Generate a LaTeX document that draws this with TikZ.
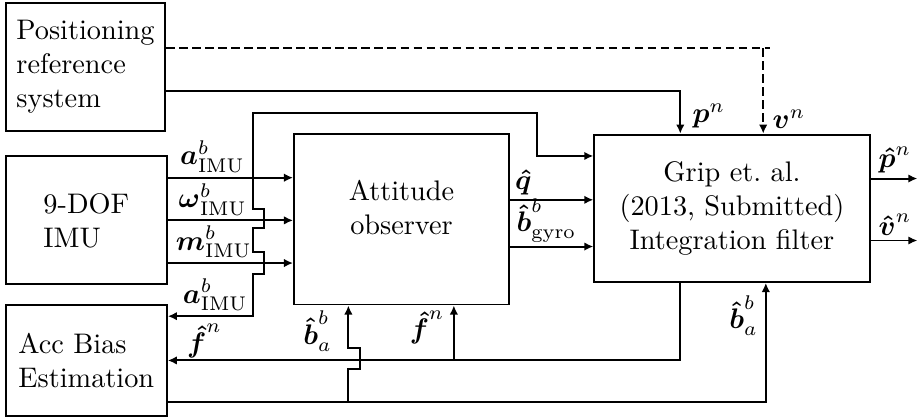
\documentclass[tikz,border=0pt]{standalone}
\usepackage{amsmath}
\usepackage{amsfonts}
\usepackage{tikz}
\usetikzlibrary{arrows.meta,calc}

\begin{document}
\begin{tikzpicture}[>={Latex[length=3.2pt,width=3pt]}]
	\tikzstyle{block}=[draw, line width=0.7pt, rectangle, anchor=north west, inner sep=0pt]
	\tikzstyle{wire}=[line width=0.7pt]
	\tikzstyle{ref}=[line width=0.7pt, dash pattern=on 3pt off 1.6pt]
	\tikzstyle{sig}=[inner sep=1.5pt]

	\useasboundingbox (0,0) rectangle (11.39,-5.17);

	\node (pos) [block, minimum width=1.98cm, minimum height=1.59cm, align=left] at (0.06,-0.02) {Positioning\\reference\\system};
	\node (imu) [block, minimum width=2.00cm, minimum height=1.59cm, align=left] at (0.06,-1.93) {9-DOF\\IMU};
	\node (acc) [block, minimum width=2.00cm, minimum height=1.37cm, align=left] at (0.06,-3.78) {Acc Bias\\Estimation};
	\node (att) [block, minimum width=2.67cm, minimum height=2.12cm] at (3.64,-1.65) {};
	\node (att-txt) [align=center] at ($(att.center) + (0, 0.15)$) {Attitude\\observer};
	\node (grip) [block, minimum width=3.42cm, minimum height=1.83cm, align=center] at (7.37,-1.66) {Grip et.\ al.\\(2013, Submitted)\\Integration filter};

	\coordinate (vref) at (9.48,-0.60);
	\coordinate (pref) at (8.45,-1.13);

	\draw [ref] (pos.east |- vref) -- ($(vref) + (0.08, 0)$);
	\draw [ref, ->] (vref) -- (vref |- grip.north) node[sig, anchor=south west, xshift=1.5pt] {$\boldsymbol{v}^n$};
	\draw [wire, ->] (pos.east |- pref) -- (pref) -- (pref |- grip.north) node[sig, anchor=south west, xshift=2.5pt] {$\boldsymbol{p}^n$};

	\draw [wire, ->] ($(imu.east) + (0, 0.53)$) coordinate (aimu) -- (aimu -| att.west) node[sig, pos=0, anchor=south west, xshift=2.5pt] {$\boldsymbol{a}^b_{\mathrm{IMU}}$};
	\draw [wire, ->] (imu.east) -- (imu.east -| att.west) node[sig, pos=0, anchor=south west, xshift=2pt] {$\boldsymbol{\omega}^b_{\mathrm{IMU}}$};
	\draw [wire, ->] ($(imu.east) + (0, -0.53)$) coordinate (mimu) -- (mimu -| att.west) node[sig, pos=0, anchor=south west, xshift=1pt] {$\boldsymbol{m}^b_{\mathrm{IMU}}$};

	\coordinate (atap) at ($(aimu) + (1.06, 0)$);
	\draw [wire, ->] (atap) -- ++(0, 0.80) -| ($(grip.west) + (-0.70, 0.65)$) -- ($(grip.west) + (0, 0.65)$);
	\draw [wire, ->] (atap) -- ++(0, -0.39) -- ++(0.14, 0) -- ++(0, -0.24) -- ++(-0.14, 0) -- ++(0, -0.29) -- ++(0.14, 0) -- ++(0, -0.27) -- ++(-0.14, 0) |- ($(acc.east) + (0, 0.55)$) node[sig, anchor=south west, xshift=3.5pt] {$\boldsymbol{a}^b_{\mathrm{IMU}}$};

	\draw [wire, ->] ($(att.east) + (0, 0.24)$) coordinate (qout) -- (qout -| grip.west) node[sig, pos=0, anchor=south west] {$\boldsymbol{\hat{q}}$};
	\draw [wire, ->] ($(att.east) + (0, -0.34)$) coordinate (bout) -- (bout -| grip.west) node[sig, pos=0, anchor=south west, inner sep=1pt, xshift=1pt] {$\boldsymbol{\hat{b}}^b_{\mathrm{gyro}}$};

	\draw [wire, ->] ($(grip.east) + (0, 0.37)$) -- ++(0.58, 0) coordinate (phat) node[sig, pos=0, anchor=south west, xshift=1pt] {$\boldsymbol{\hat{p}}^n$};
	\draw [wire, ->] ($(grip.east) + (0, -0.40)$) -- ++(0.58, 0) coordinate (vhat) node[sig, pos=0, anchor=south west, xshift=1pt] {$\boldsymbol{\hat{v}}^n$};

	\draw [wire, ->] ($(grip.south) + (-0.64, 0)$) |- (acc.east) node[anchor=south west, inner sep=0.5pt, xshift=6pt] {$\boldsymbol{\hat{f}}^n$};
	\coordinate (fcol) at ($(att.south) + (0.65, 0)$);
	\coordinate (ftap) at (fcol |- acc.east);
	\draw [wire, ->] (ftap) -- (ftap |- att.south) node[pos=0.6, left, inner sep=3pt] {$\boldsymbol{\hat{f}}^n$};

	\draw [wire, ->] ($(acc.east) + (0, -0.51)$) coordinate (bacc) -| ($(grip.south) + (0.42, 0)$) node[sig, anchor=north east, xshift=-1pt, yshift=-2.5pt] {$\boldsymbol{\hat{b}}^b_a$};
	\coordinate (bcol) at ($(att.south) + (-0.66, 0)$);
	\coordinate (btap) at (bcol |- bacc);
	\draw [wire, ->] (btap) -- ++(0, 0.40) -- ++(0.14, 0) -- ++(0, 0.26) -- ++(-0.14, 0) -- (btap |- att.south) node[sig, anchor=north east, xshift=-4pt] {$\boldsymbol{\hat{b}}^b_a$};
\end{tikzpicture}
\end{document}
